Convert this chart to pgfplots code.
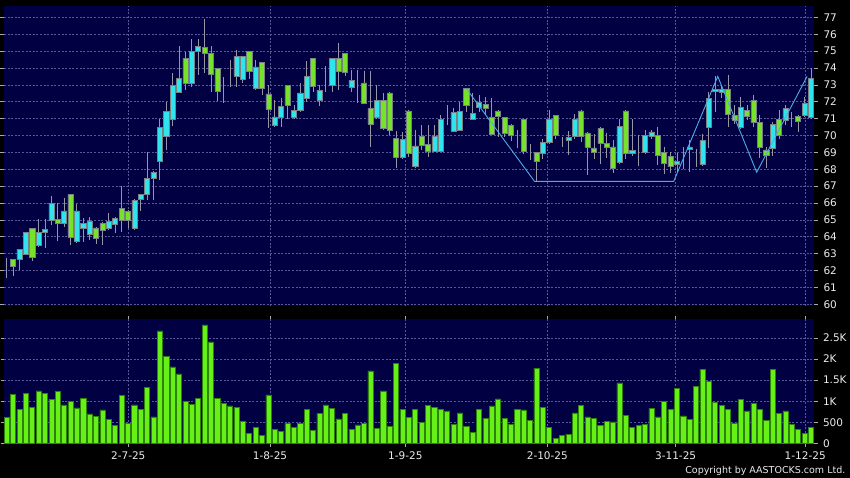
\documentclass[border=0pt]{standalone}
\usepackage{fontspec}
\setmainfont{DejaVu Sans}
\usepackage{pgfplots}
\usepackage{pgfplotstable}
\pgfplotsset{compat=1.18}
\definecolor{navy}{RGB}{0,0,66}
\definecolor{gridc}{RGB}{88,88,150}
\definecolor{upc}{RGB}{48,228,238}
\definecolor{dnc}{RGB}{118,226,42}
\definecolor{bordc}{RGB}{120,130,130}
\definecolor{wickc}{RGB}{150,150,165}
\definecolor{volc}{RGB}{102,240,24}
\definecolor{volb}{RGB}{45,130,10}
\definecolor{zigc}{RGB}{80,170,230}
\definecolor{labelc}{RGB}{235,235,235}
\definecolor{tickc}{RGB}{170,170,170}

\pgfplotstableread{
i O H L C
0 61.83 62.72 61.53 61.83
1 62.66 62.70 61.67 62.28
2 62.66 63.30 62.03 63.27
3 62.97 64.30 62.90 64.26
4 64.49 64.55 62.58 62.78
5 63.47 65.03 63.37 64.26
6 64.24 65.07 63.31 64.45
7 64.95 66.40 64.70 65.97
8 65.03 66.03 63.76 64.79
9 64.79 66.30 64.60 65.54
10 66.51 66.55 63.51 64.00
11 63.74 65.97 63.64 65.54
12 64.50 65.10 63.70 64.79
13 64.14 65.20 63.80 64.93
14 64.53 64.60 63.60 63.90
15 64.79 64.85 63.50 64.40
16 64.50 65.40 64.40 64.93
17 64.73 65.15 64.20 65.09
18 65.68 67.00 64.30 64.99
19 65.52 65.60 64.50 64.99
20 64.50 66.25 64.40 66.17
21 66.25 66.55 65.54 66.51
22 66.51 69.00 66.17 67.46
23 67.46 67.90 66.17 67.81
24 68.45 70.97 67.36 70.46
25 69.93 72.00 69.14 71.41
26 70.96 73.68 70.56 72.95
27 72.56 75.30 72.50 73.38
28 74.57 74.96 72.70 73.09
29 73.09 75.70 72.90 74.96
30 74.96 75.70 73.58 75.26
31 75.22 76.90 73.68 74.87
32 74.87 75.30 72.57 73.64
33 73.98 74.00 72.06 72.64
34 72.99 73.45 71.94 72.99
35 73.52 74.47 72.85 73.52
36 73.52 75.06 72.85 74.67
37 73.32 74.70 73.10 74.67
38 74.96 75.00 73.37 73.82
39 72.79 74.47 72.70 74.07
40 74.31 74.35 72.40 72.79
41 72.47 72.98 70.47 71.54
42 70.59 72.09 70.50 71.10
43 71.10 72.25 70.52 71.74
44 72.96 73.00 71.00 71.80
45 71.10 71.80 70.95 71.50
46 71.50 73.10 71.40 72.53
47 72.20 74.40 72.00 73.48
48 74.55 74.60 72.60 72.93
49 72.10 72.98 71.75 72.69
50 73.07 74.10 72.60 73.07
51 72.97 74.60 72.60 74.55
52 74.55 75.46 72.69 73.82
53 74.86 74.90 73.50 73.76
54 72.85 73.87 72.60 73.26
55 72.79 73.87 71.90 72.79
56 73.12 73.80 71.85 71.90
57 71.60 73.80 69.33 70.67
58 71.10 72.98 71.00 72.10
59 72.10 72.53 70.30 70.45
60 72.53 72.60 70.00 70.30
61 69.83 70.28 68.05 68.74
62 68.74 70.20 68.60 69.77
63 71.46 71.50 68.74 68.94
64 68.15 70.30 68.10 69.38
65 69.93 70.62 69.13 69.44
66 69.47 70.62 68.74 69.08
67 69.04 70.62 69.00 69.97
68 69.04 71.20 69.00 70.97
69 70.97 71.80 70.60 70.97
70 70.28 71.60 70.20 71.35
71 70.30 72.00 70.28 71.41
72 72.79 72.80 71.40 71.80
73 70.97 72.50 70.90 71.31
74 71.66 72.40 71.40 71.94
75 71.84 72.30 71.20 71.60
76 71.07 72.20 70.00 70.06
77 71.46 71.50 69.90 71.11
78 71.07 71.10 69.90 70.16
79 70.62 70.70 69.70 70.03
80 69.93 70.30 69.24 69.93
81 70.95 71.00 68.90 69.04
82 69.04 69.50 68.55 69.04
83 68.98 69.00 67.26 68.45
84 68.94 69.80 68.60 69.57
85 69.57 71.50 69.50 70.95
86 71.17 71.20 69.80 70.03
87 69.66 69.90 69.34 69.66
88 69.69 70.28 68.84 69.89
89 69.93 71.30 69.80 70.97
90 71.46 71.50 69.60 69.93
91 70.16 70.20 67.65 69.33
92 69.27 70.10 68.60 68.99
93 70.42 70.50 68.34 69.53
94 69.53 70.16 68.64 69.33
95 69.33 69.73 67.75 68.05
96 68.40 71.00 68.30 70.52
97 71.46 71.50 68.60 68.94
98 68.94 71.00 68.80 69.13
99 69.53 70.03 68.20 69.53
100 68.99 70.30 68.90 69.99
101 69.93 70.30 69.80 70.22
102 69.99 70.52 68.25 68.84
103 68.98 69.33 67.70 68.34
104 68.78 69.04 67.75 68.15
105 68.28 68.98 67.75 68.45
106 69.08 69.30 68.00 69.08
107 69.20 69.73 67.85 69.33
108 69.14 69.20 68.15 69.14
109 68.28 70.10 68.20 69.70
110 70.50 72.60 69.24 72.20
111 72.60 73.50 71.40 72.75
112 72.55 73.00 72.20 72.75
113 72.73 73.60 70.50 71.27
114 71.21 71.80 70.70 70.91
115 70.48 72.29 70.40 71.66
116 71.50 71.80 70.90 71.15
117 72.10 72.40 70.50 70.76
118 70.76 71.20 68.64 69.33
119 69.14 69.30 68.05 68.84
120 69.24 70.80 68.80 70.66
121 70.97 71.50 69.80 70.03
122 70.92 71.80 70.60 71.60
123 71.11 71.40 70.50 71.11
124 71.15 71.20 70.22 70.87
125 71.21 72.30 71.10 71.90
126 71.07 74.00 71.00 73.38
}\price

\pgfplotstableread{
i V
0 615
1 1167
2 804
3 1191
4 860
5 1246
6 1183
7 1049
8 1230
9 915
10 1002
11 844
12 1072
13 702
14 639
15 797
16 576
17 426
18 1136
19 489
20 915
21 820
22 1333
23 631
24 2665
25 2058
26 1814
27 1648
28 1009
29 923
30 1072
31 2807
32 2405
33 1072
34 954
35 891
36 852
37 536
38 252
39 394
40 205
41 1151
42 331
43 300
44 481
45 379
46 473
47 812
48 315
49 718
50 915
51 836
52 584
53 718
54 347
55 442
56 481
57 1719
58 363
59 1246
60 402
61 1900
62 812
63 623
64 812
65 497
66 907
67 867
68 820
69 773
70 457
71 726
72 418
73 276
74 812
75 607
76 891
77 1057
78 591
79 465
80 804
81 797
82 560
83 1782
84 867
85 386
86 126
87 205
88 229
89 726
90 907
91 631
92 607
93 434
94 536
95 513
96 1435
97 662
98 379
99 434
100 457
101 828
102 631
103 994
104 804
105 1301
106 655
107 576
108 1356
109 1759
110 1467
111 970
112 907
113 820
114 489
115 1049
116 773
117 954
118 820
119 552
120 1751
121 718
122 773
123 450
124 347
125 237
126 394
}\vol

\pgfplotsset{
  panel/.style={
    scale only axis, anchor=south west, width=810pt,
    xmin=-0.42, xmax=126.48,
    xtick={19.05,41.25,62.45,84.7,104.8,125.1},
  },
  deco/.style={
    axis background/.style={fill=navy},
    axis line style={draw=none},
    xmajorgrids, ymajorgrids,
    grid style={gridc, dash pattern=on 2pt off 1.6pt, line width=0.6pt},
    yticklabel pos=right,
    tick align=outside,
    major tick length=4pt,
    major y tick style={tickc, line width=0.6pt},
    tick label style={font=\fontsize{10.5}{12}\selectfont, text=labelc},
    yticklabel style={xshift=2pt},
  },
}

\begin{document}
\begin{tikzpicture}
\useasboundingbox (0pt,0pt) rectangle (850pt,478pt);
\fill[black] (0pt,0pt) rectangle (850pt,478pt);

% price panel: grid, labels, wicks
\begin{axis}[panel, deco, at={(4pt,172pt)}, height=300pt,
  ymin=59.9, ymax=77.67,
  ytick={60,61,62,63,64,65,66,67,68,69,70,71,72,73,74,75,76,77},
  yticklabels={60,61,62,63,64,65,66,67,68,69,70,71,72,73,74,75,76,77},
  xticklabel style={text opacity=0}, major x tick style={draw=none}]
\addplot[draw=none, mark=none, forget plot,
  error bars/.cd, y dir=both, y explicit,
  error bar style={draw=wickc, solid, line width=0.8pt}, error mark=none]
  table[x=i, y expr={(\thisrow{H}+\thisrow{L})/2}, y error expr={(\thisrow{H}-\thisrow{L})/2}] {\price};
\end{axis}

% price panel: candle bodies
\begin{axis}[panel, at={(4pt,172pt)}, height=300pt, hide axis,
  ymin=59.9, ymax=77.67, ybar stacked, bar width=0.8]
\addplot[draw=none, fill=none] table[x=i, y expr={min(\thisrow{O},\thisrow{C})}] {\price};
\addplot[fill=upc, draw=bordc, line width=0.5pt] table[x=i, y expr={max(\thisrow{C}-\thisrow{O},0)}] {\price};
\addplot[fill=dnc, draw=bordc, line width=0.5pt] table[x=i, y expr={max(\thisrow{O}-\thisrow{C},0)}] {\price};
\end{axis}

% price panel: pattern line
\begin{axis}[panel, at={(4pt,172pt)}, height=300pt, hide axis, ymin=59.9, ymax=77.67]
\addplot[zigc, line width=0.9pt, mark=none] coordinates {
(72,72.78) (82.7,67.28) (104.5,67.28) (111.4,73.5) (117.5,67.82) (125.4,73.5)};
\end{axis}

% volume panel
\begin{axis}[panel, deco, at={(4pt,34.3pt)}, height=124.4pt,
  ymin=0, ymax=2940,
  ytick={0,500,1000,1500,2000,2500},
  yticklabels={0,500,1K,1.5K,2K,2.5K},
  xticklabels={2-7-25,1-8-25,1-9-25,2-10-25,3-11-25,1-12-25},
  major x tick style={tickc, line width=0.6pt},
  major tick length=3.5pt,
  xticklabel style={yshift=-1pt},
  ybar, bar width=0.8]
\addplot[fill=volc, draw=volb, line width=0.6pt] table[x=i, y=V] {\vol};
\end{axis}

\node[anchor=base east, font=\fontsize{9.5}{11}\selectfont, text=labelc, inner sep=0pt] at (845.5pt,4pt) {Copyright by AASTOCKS.com Ltd.};
\end{tikzpicture}
\end{document}
